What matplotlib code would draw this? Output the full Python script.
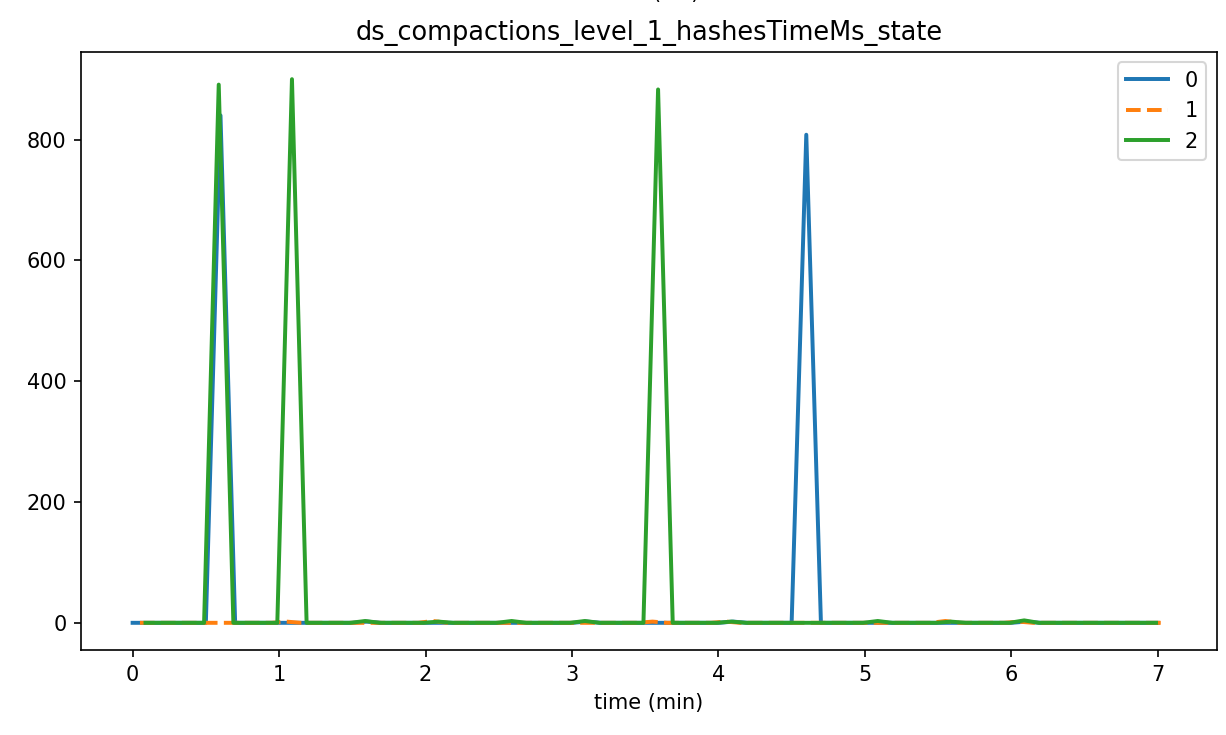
import numpy as np
import matplotlib
matplotlib.use("Agg")
import matplotlib.pyplot as plt

# time stamps (min) for each series
t0 = [round(0.1 * k, 3) for k in range(71)]
t1 = [round(0.05 + 0.1 * k, 3) for k in range(71)]
t2 = [round(0.088 + 0.1 * k, 3) for k in range(70)]

# hashesTimeMs values
v0 = [0, 0, 0, 0, 0, 0, 840, 0, 0, 0,
      0, 0, 0, 0, 0, 0, 2, 0, 0, 0,
      0, 0, 0, 0, 0, 0, 0, 0, 0, 0,
      0, 2, 0, 0, 0, 0, 0, 0, 0, 0,
      0, 2, 0, 0, 0, 0, 808, 0, 0, 0,
      0, 0, 0, 0, 0, 0, 0, 0, 0, 0,
      0, 2, 0, 0, 0, 0, 0, 0, 0, 0,
      0]
v1 = [0, 0, 0, 0, 0, 0, 0, 0, 0, 0,
      2, 0, 0, 0, 0, 0, 0, 0, 0, 0,
      3, 0, 0, 0, 0, 0, 0, 0, 0, 0,
      0, 0, 0, 0, 0, 2, 0, 0, 0, 0,
      2, 0, 0, 0, 0, 0, 0, 0, 0, 0,
      0, 0, 0, 0, 0, 3, 0, 0, 0, 0,
      2, 0, 0, 0, 0, 0, 0, 0, 0, 0,
      0]
v2 = [0, 0, 0, 0, 0, 891, 0, 0, 0, 0,
      900, 0, 0, 0, 0, 3, 0, 0, 0, 0,
      2, 0, 0, 0, 0, 3, 0, 0, 0, 0,
      3, 0, 0, 0, 0, 883, 0, 0, 0, 0,
      2, 0, 0, 0, 0, 0, 0, 0, 0, 0,
      3, 0, 0, 0, 0, 2, 0, 0, 0, 0,
      4, 0, 0, 0, 0, 0, 0, 0, 0, 0]

fig = plt.figure(figsize=(1226 / 150, 735 / 150), dpi=150)
ax = fig.add_axes([81 / 1226, 1 - 650 / 735, (1216.7 - 81) / 1226, (650 - 52) / 735])

ax.plot(t0, v0, color='#1f77b4', linestyle='-', linewidth=1.9, label='0')
ax.plot(t1, v1, color='#ff7f0e', linestyle='--', linewidth=1.9, label='1')
ax.plot(t2, v2, color='#2ca02c', linestyle='-', linewidth=1.9, label='2')

ax.tick_params(labelsize=10)
ax.set_xlabel('time (min)', fontsize=10)
ax.set_title('ds_compactions_level_1_hashesTimeMs_state', fontsize=12.3)
ax.legend(loc='upper right', fontsize=10)

# header line above the title, mostly cut off by the canvas edge
fig.text(676 / 1226, 1 + 1.5 / 735, '(ms)', ha='center', va='baseline')

fig.savefig('out.png', dpi=150)
